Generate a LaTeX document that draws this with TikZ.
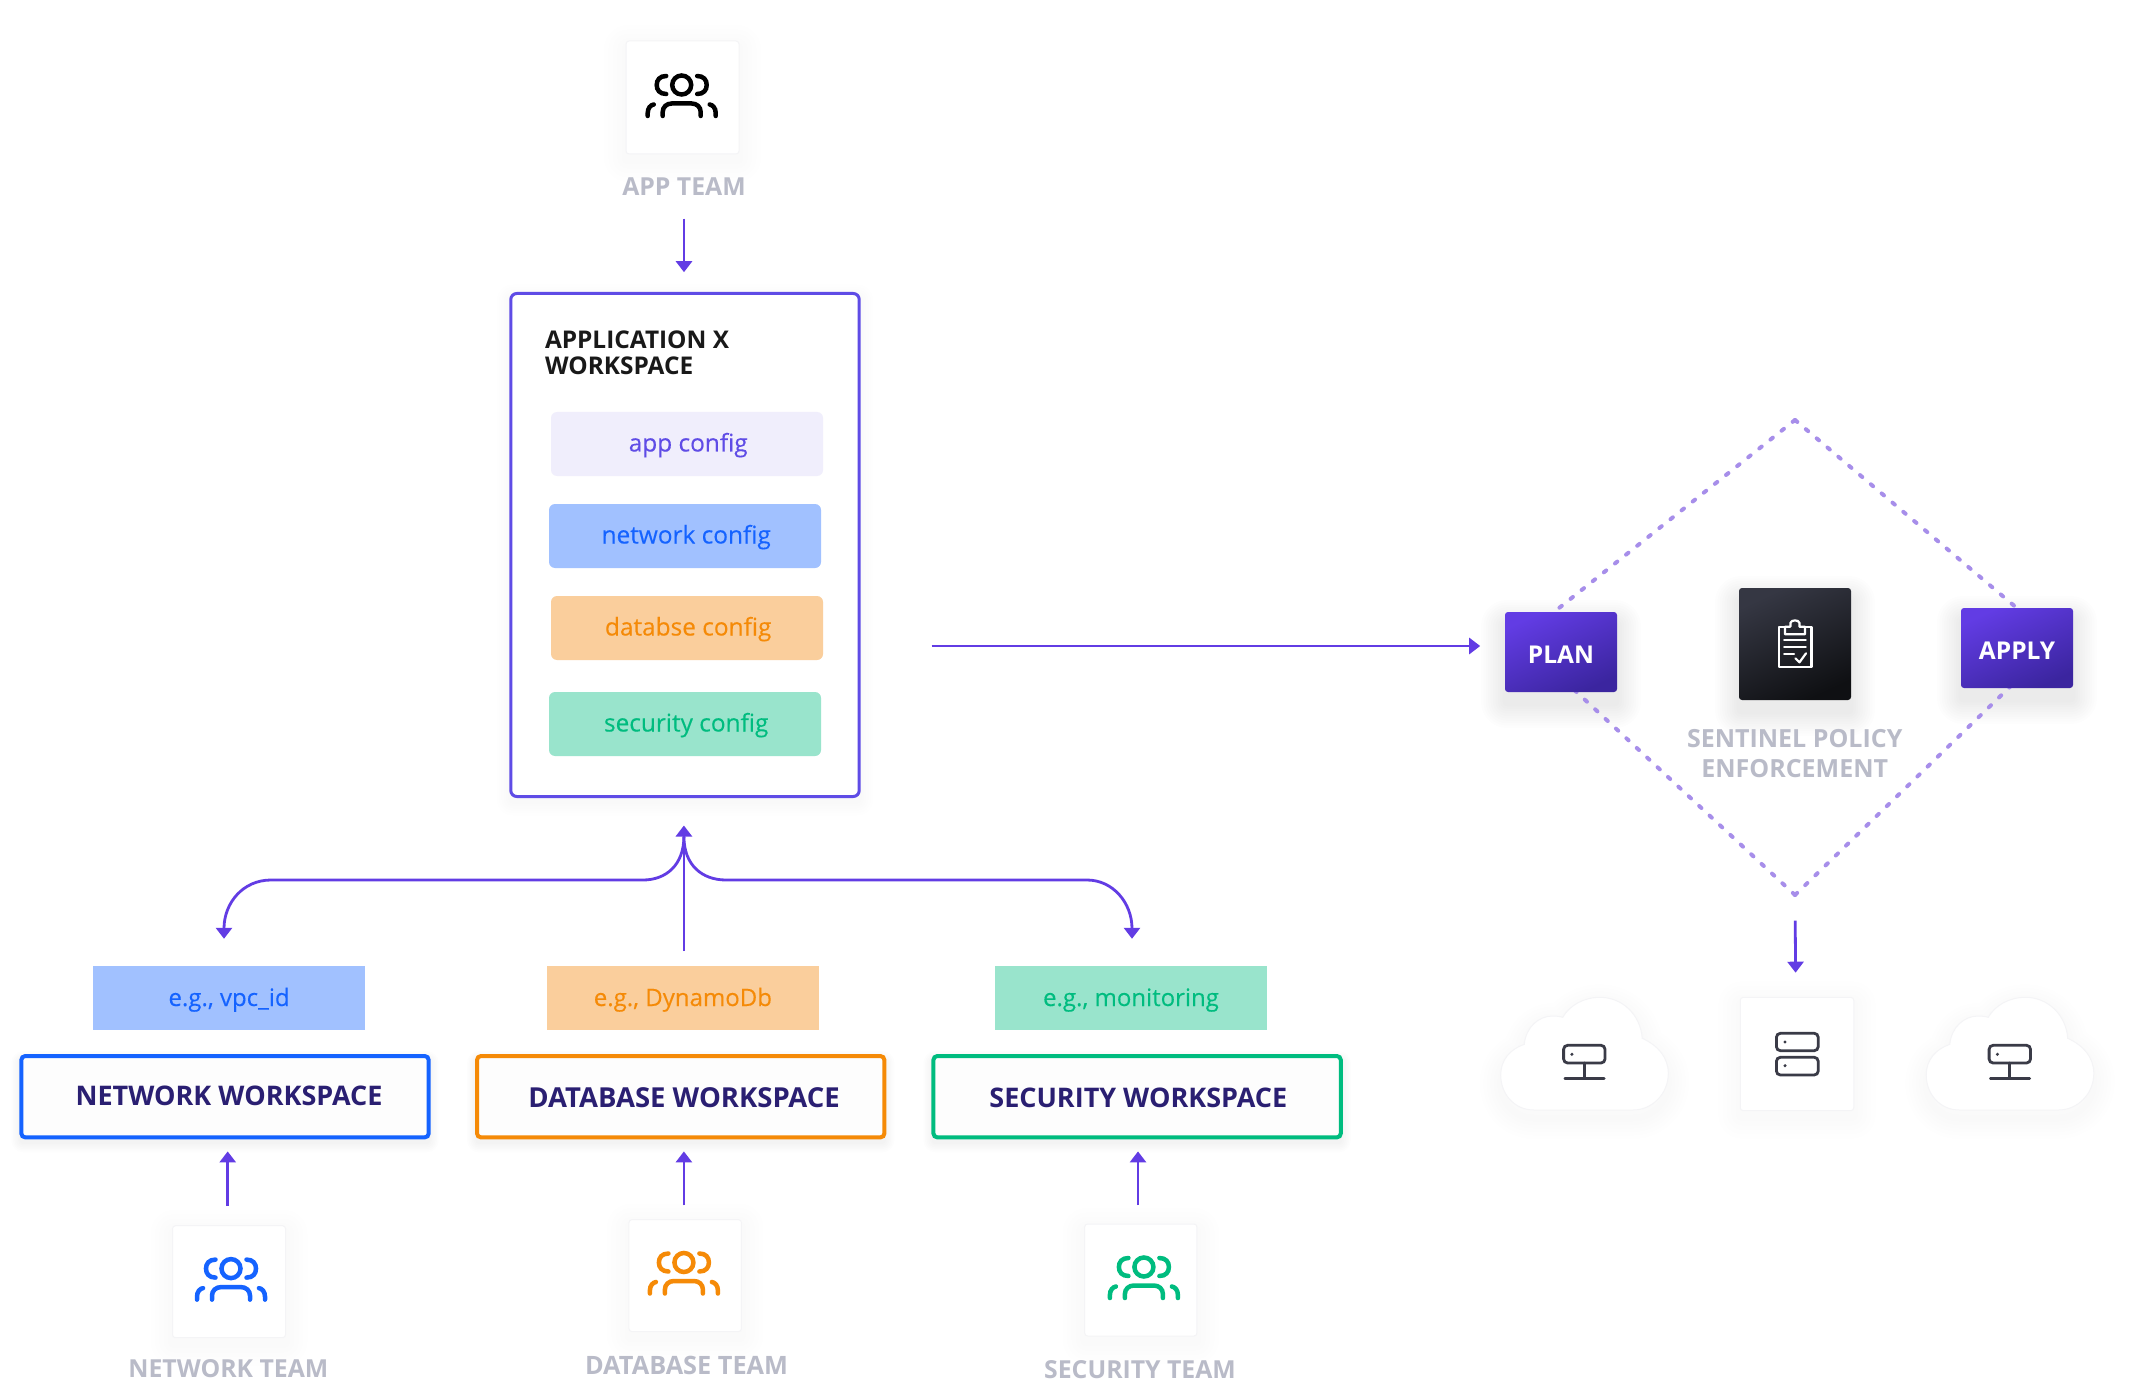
\documentclass[tikz,border=0pt]{standalone}
\usepackage{fontspec}
\setmainfont{Open Sans}
\newcommand{\semi}{\bfseries}
\newfontfamily\medf{Open Sans}[FakeBold=0.25]
\usetikzlibrary{arrows.meta,backgrounds}
\definecolor{flowc}{HTML}{623CE4}
\definecolor{flowd}{HTML}{3B259F}
\definecolor{boxc}{HTML}{5F4CE6}
\definecolor{bluec}{HTML}{1563FF}
\definecolor{bluel}{HTML}{A1C1FF}
\definecolor{orangec}{HTML}{F58A07}
\definecolor{orangel}{HTML}{FACE9C}
\definecolor{greenc}{HTML}{00BC7F}
\definecolor{greenl}{HTML}{99E4CC}
\definecolor{purplel}{HTML}{F0EEFC}
\definecolor{navyc}{HTML}{2A1F72}
\definecolor{grayc}{HTML}{B9BBC8}
\definecolor{dotc}{HTML}{A78EEA}
\definecolor{iconc}{HTML}{3A3B47}
\definecolor{edgec}{HTML}{F4F4F6}
\definecolor{sentl}{HTML}{353743}
\definecolor{sentd}{HTML}{0F1013}
\definecolor{wsfill}{HTML}{FDFDFD}
\tikzset{
  flow/.style={draw=flowc,line width=2.8pt,-{Triangle[width=16pt,length=11pt]}},
  every node/.style={inner sep=0pt,outer sep=0pt},
  teamcard/.style={draw=edgec,line width=1pt,fill=white,rounded corners=3pt,minimum width=#1,minimum height=112pt},
  teamlabel/.style={text height=19.4pt,text depth=5.1pt,font=\semi\fontsize{24.8}{24.8}\selectfont,text=grayc},
  wsbox/.style={line width=4pt,fill=wsfill,rounded corners=4pt,minimum width=407.4pt,minimum height=81.4pt,
     text=navyc,font=\semi\fontsize{27}{27}\selectfont,text height=21.8pt,text depth=4.8pt},
  wslow/.style={text height=24.5pt,text depth=2.1pt},
  tagbox/.style={minimum width=272pt,minimum height=63.6pt,font=\medf\fontsize{24}{24}\selectfont,text height=20.5pt,text depth=4.1pt},
  cfgbox/.style={minimum width=272pt,minimum height=64pt,rounded corners=6pt,font=\medf\fontsize{24.4}{24.4}\selectfont,text height=19.8pt,text depth=4.8pt},
  gradbox/.style={rounded corners=3pt,minimum width=112pt,minimum height=80pt,shading=axis,top color=flowc,bottom color=flowd,
     shading angle=25,text=white,font=\semi\fontsize{24.5}{24.5}\selectfont,text height=24pt,text depth=.4pt},
  dotline/.style={draw=dotc,line width=4pt,line cap=round,dash pattern=on 3pt off 11.2pt},
  iconline/.style={draw=iconc,line width=2.8pt,line cap=round,rounded corners=4pt},
}
\newcommand{\softshadow}[5]{% node, spread, dy, step opacity, layers
  \foreach \k in {1,...,#5}{
    \pgfmathsetmacro{\sp}{#2*\k/#5}
    \pgfmathsetmacro{\rc}{\sp+2}
    \fill[black,opacity=#4,rounded corners=\rc pt] ([shift={(-\sp,#3+\sp)}]#1.south west) rectangle ([shift={(\sp,#3-\sp)}]#1.north east);
  }}
\newcommand{\teamicon}[3]{%
  \begin{scope}[shift={(#1,#2)},draw=#3,line width=4.5pt,line cap=round]
    \draw (0,0) circle[radius=9.5];
    \draw (-15.5,-9) .. controls (-22,-9) and (-25,-5) .. (-25,0) .. controls (-25,5) and (-22,9) .. (-15.5,9);
    \draw (15.5,-9) .. controls (22,-9) and (25,-5) .. (25,0) .. controls (25,5) and (22,9) .. (15.5,9);
    \draw (-19,31) -- (-19,27) .. controls (-19,22) and (-15,18.5) .. (-10,18.5) -- (10,18.5) .. controls (15,18.5) and (19,22) .. (19,27) -- (19,31);
    \draw (-34,31) -- (-34,28) .. controls (-34,23) and (-31,20) .. (-28,19.5);
    \draw (34,31) -- (34,28) .. controls (34,23) and (31,20) .. (28,19.5);
  \end{scope}}
\newcommand{\cloudpath}{(33,112.7) .. controls (14,112.7) and (0,97) .. (0,77.7) .. controls (0,63) and (9,52) .. (23.6,47) .. controls (25,30) and (38,18.7) .. (51.7,18.7) .. controls (55,18.7) and (59,19) .. (62,20) .. controls (69,8) and (83,0) .. (99.3,0) .. controls (122,0) and (140,18) .. (141.5,41) .. controls (157,48) and (167.6,60) .. (167.6,76) .. controls (167.6,97) and (151,112.7) .. (132.5,112.7) -- cycle}
\newcommand{\cloudicon}[2]{%
  \begin{scope}[shift={(#1,#2)}]
    \foreach \k in {1,...,6}{
      \pgfmathsetmacro{\sp}{7*\k}
      \begin{scope}[shift={(0,8)}]
      \draw[black,opacity=.004,line width=\sp pt,line join=round] \cloudpath;
      \end{scope}
    }
    \draw[edgec,line width=1pt,fill=white] \cloudpath;
    \draw[iconline] (62.9,48) rectangle (104.3,65.7);
    \fill[iconc] (71.2,57) circle[radius=1.7];
    \draw[iconline] (83.6,65.7) -- (83.6,81);
    \draw[iconline] (64.2,81) -- (103.5,81);
  \end{scope}}
\begin{document}
\begin{tikzpicture}[x=1pt,y=-1pt]
\useasboundingbox (0,0) rectangle (2129,1396);

% ---- team cards and labels
\node[teamcard=113pt,minimum height=113pt] (appcard) at (682.5,97.5) {};
\node[teamlabel] (applabel) at (684,188.6) {APP TEAM};
\node[teamcard=113pt] (netcard) at (229,1281.7) {};
\node[teamlabel] (netlabel) at (228.4,1370.8) {NETWORK TEAM};
\node[teamcard=112.5pt] (dbcard) at (685.2,1275.6) {};
\node[teamlabel,font=\semi\fontsize{25.3}{25.3}\selectfont] (dblabel) at (686.5,1367.3) {DATABASE TEAM};
\node[teamcard=112.3pt] (seccard) at (1140.8,1280) {};
\node[teamlabel] (seclabel) at (1140,1371.2) {SECURITY TEAM};
\teamicon{681.7}{85}{black}
\teamicon{231}{1268.6}{bluec}
\teamicon{683.9}{1262.5}{orangec}
\teamicon{1143.9}{1267}{greenc}

% ---- application workspace
\node[draw=boxc,line width=3pt,fill=white,rounded corners=6pt,minimum width=348.4pt,minimum height=503pt] (appbox) at (685,545) {};
\node[anchor=base west,align=left,font=\semi\fontsize{24.4}{26}\selectfont,text=black!90] (apptitle) at (545,374.3) {APPLICATION X\\WORKSPACE};
\node[cfgbox,fill=purplel,text=boxc] (cfgapp) at (687,444) {\hspace*{2.4pt}app config};
\node[cfgbox,fill=bluel,text=bluec] (cfgnet) at (685,536) {\hspace*{2.4pt}network config};
\node[cfgbox,fill=orangel,text=orangec] (cfgdb) at (687,628) {\hspace*{2.4pt}databse config};
\node[cfgbox,fill=greenl,text=greenc] (cfgsec) at (685,724) {\hspace*{2.4pt}security config};

% ---- tags and workspaces
\node[tagbox,fill=bluel,text=bluec] (nettag) at (229.1,997.8) {e.g., vpc\_id};
\node[tagbox,fill=orangel,text=orangec] (dbtag) at (682.9,997.8) {e.g., DynamoDb};
\node[tagbox,fill=greenl,text=greenc] (sectag) at (1131,997.8) {e.g., monitoring};
\node[wsbox,draw=bluec] (netws) at (225,1096.7) {\hspace*{8pt}NETWORK WORKSPACE};
\node[wsbox,wslow,draw=orangec,font=\semi\fontsize{27.5}{27.5}\selectfont] (dbws) at (680.7,1096.7) {\hspace*{6.6pt}DATABASE WORKSPACE};
\node[wsbox,wslow,draw=greenc] (secws) at (1137.1,1096.7) {\hspace*{2.4pt}SECURITY WORKSPACE};

% ---- sentinel
\node[gradbox] (plan) at (1561,652) {PLAN};
\node[gradbox] (apply) at (2017,648) {APPLY};
\node[rounded corners=3pt,minimum width=112pt,minimum height=112pt,shading=axis,top color=sentl,bottom color=sentd,shading angle=25] (sentinel) at (1795,644) {};
\node[align=center,text=grayc,font=\semi\fontsize{25}{29.7}\selectfont] (sentlabel) at (1794.7,753.5) {SENTINEL POLICY\\ENFORCEMENT};
\begin{scope}[draw=white,line width=2.2pt,line cap=round,line join=round]
  \draw (1785,626.7) -- (1778.8,626.7) -- (1778.8,667) -- (1811.5,667) -- (1811.5,626.7) -- (1805,626.7);
  \draw (1785,634.3) -- (1785,626.7) -- (1790.4,626.7) -- (1790.4,623) .. controls (1791,619.5) and (1799,619.5) .. (1799.5,623) -- (1799.5,626.7) -- (1805,626.7) -- (1805,634.3) -- cycle;
  \draw (1784.2,640) -- (1805.7,640);
  \draw (1784.2,647.3) -- (1805.7,647.3);
  \draw (1784.2,654) -- (1794,654);
  \draw (1795.4,658.3) -- (1799.5,662.3) -- (1806,653.3);
\end{scope}

% ---- deployment targets
\node[teamcard=113.5pt,minimum height=113.4pt] (servercard) at (1797,1054) {};
\begin{scope}[on background layer]
  \fill[white] (0,0) rectangle (2129,1396);
\end{scope}
\cloudicon{1500.7}{997.3}
\cloudicon{1926.2}{997.3}
\draw[iconline] (1776.4,1033.3) rectangle (1818.2,1050.7);
\draw[iconline] (1776.4,1057.3) rectangle (1818.2,1075);
\fill[iconc] (1785,1042) circle[radius=1.7];
\fill[iconc] (1785,1065.7) circle[radius=1.7];

% ---- shadows and dotted diamond behind everything
\begin{scope}[on background layer]
  \softshadow{appcard}{22}{6}{.004}{5}
  \softshadow{netcard}{22}{6}{.004}{5}
  \softshadow{dbcard}{22}{6}{.004}{5}
  \softshadow{seccard}{22}{6}{.004}{5}
  \softshadow{servercard}{22}{6}{.004}{5}
  \softshadow{appbox}{14}{5}{.005}{6}
  \softshadow{netws}{10}{5}{.008}{6}
  \softshadow{dbws}{10}{5}{.008}{6}
  \softshadow{secws}{10}{5}{.008}{6}
  \softshadow{plan}{24}{12}{.008}{10}
  \softshadow{apply}{24}{12}{.008}{10}
  \softshadow{sentinel}{24}{12}{.008}{10}
  \coordinate (dtop) at (1795,420);
  \coordinate (dbot) at (1795,895);
  \draw[dotline] (dtop) -- ([shift={(-17pt,-8pt)}]plan.north);
  \draw[dotline] (dtop) -- ([shift={(8pt,-7pt)}]apply.north);
  \draw[dotline] (dbot) -- ([shift={(8pt,7pt)}]plan.south);
  \draw[dotline] (dbot) -- ([shift={(0pt,8pt)}]apply.south);
\end{scope}

% ---- connectors
\draw[flow,shorten <=64.7pt,shorten >=21.3pt] ([xshift=1.5pt]appcard.south) -- ([xshift=1.5pt]appcard.south |- appbox.north);
\draw[flow,shorten <=72.3pt,shorten >=24.8pt] ([yshift=6pt]plan.west -| appbox.east) -- ([yshift=6pt]plan.west);
\draw[flow,shorten <=25.7pt,shorten >=24.6pt] (sentinel.south |- dbot) -- ([xshift=0.8pt]sentinel.south |- servercard.north);
\draw[flow,shorten <=20.2pt,shorten >=14pt] ([xshift=-1.3pt]netcard.north) -- ([xshift=-1.3pt]netcard.north |- netws.south);
\draw[flow,shorten <=14.3pt,shorten >=14pt] ([xshift=-1.3pt]dbcard.north) -- ([xshift=-1.3pt]dbcard.north |- dbws.south);
\draw[flow,shorten <=19pt,shorten >=14pt] ([xshift=-2.8pt]seccard.north) -- ([xshift=-2.8pt]seccard.north |- secws.south);
\draw[flow,shorten <=15pt,shorten >=29pt] ([xshift=1pt]dbtag.north) -- ([xshift=1pt]dbtag.north |- appbox.south);
\coordinate (fork) at ([shift={(-1.1pt,-40pt)}]appbox.south);
\coordinate (netin) at ([shift={(-5.1pt,27.2pt)}]nettag.north);
\coordinate (secin) at ([shift={(1pt,27.2pt)}]sectag.north);
\draw[flow] (fork) .. controls (683.9,865) and (666,880) .. (643,880) -- (271,880) .. controls (243,880) and (224,903) .. (netin);
\draw[flow] (fork) .. controls (683.9,865) and (702,880) .. (726,880) -- (1087,880) .. controls (1113,880) and (1132,903) .. (secin);
\end{tikzpicture}
\end{document}
